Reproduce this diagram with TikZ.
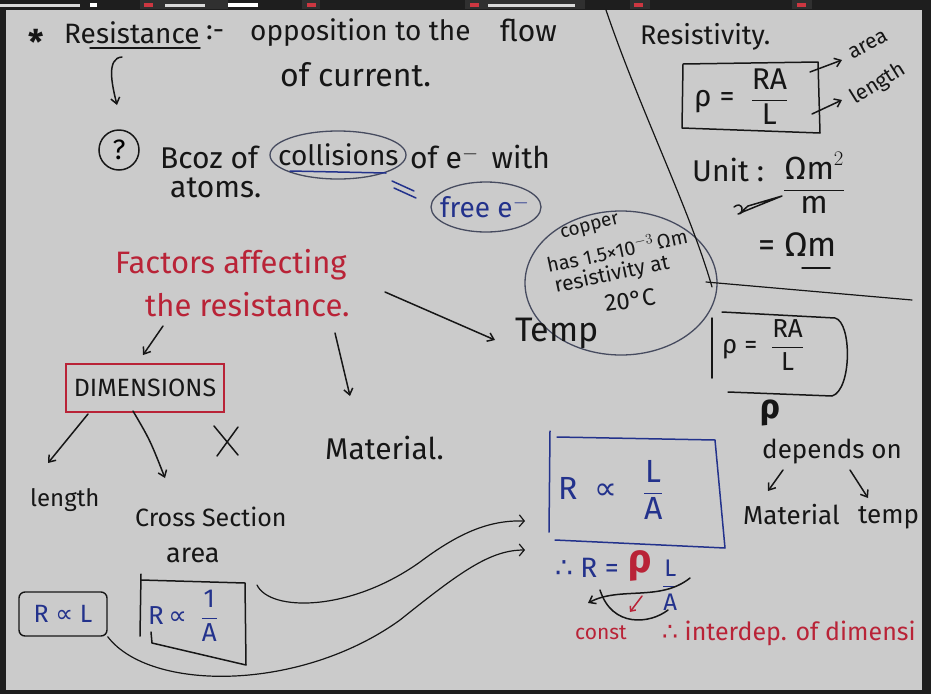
\documentclass[tikz,border=0pt]{standalone}
\usepackage{amsmath}
\usepackage{fontspec}
\setmainfont{Fira Sans}
\newfontfamily\symfont{DejaVu Sans}
\usetikzlibrary{positioning,arrows.meta}
\definecolor{board}{RGB}{203,203,203}
\definecolor{frame}{RGB}{30,30,30}
\definecolor{tabgrey}{RGB}{48,48,48}
\definecolor{tabred}{RGB}{205,55,65}
\definecolor{inkblack}{RGB}{22,22,22}
\definecolor{inkred}{RGB}{185,35,55}
\definecolor{inkblue}{RGB}{35,50,140}
\definecolor{inkgrey}{RGB}{70,75,95}
\newcommand{\hw}[1]{\fontsize{#1}{#1}\selectfont}
\begin{document}
\begin{tikzpicture}[x=1pt,y=-1pt,
  txt/.style={inner sep=0pt, anchor=west, text=inkblack, font=\hw{28}},
  redtxt/.style={txt, text=inkred},
  bluetxt/.style={txt, text=inkblue},
  pen/.style={draw=inkblack, line width=1.5pt, line cap=round, line join=round},
  redpen/.style={pen, draw=inkred},
  bluepen/.style={pen, draw=inkblue},
  loop/.style={draw=inkgrey, line width=1.3pt},
  barb/.style={pen, -{Straight Barb[length=6pt,width=9pt]}},
  ]
  % Screen frame and board
  \fill[frame] (0,0) rectangle (931,694);
  \fill[board] (6,10) rectangle (922,690);
  % Tab strip
  \fill[tabgrey] (140,0) rectangle (228,9);
  \fill[tabgrey] (302,0) rectangle (320,9);
  \fill[tabgrey] (465,0) rectangle (585,9);
  \fill[tabgrey] (630,0) rectangle (650,9);
  \fill[tabgrey] (792,0) rectangle (812,9);
  \fill[white!85!black] (0,4) rectangle (80,7);
  \fill[white] (90,3) rectangle (97,7);
  \fill[white!85!black] (165,4) rectangle (205,7);
  \fill[white] (228,3) rectangle (258,7);
  \fill[white!85!black] (488,4) rectangle (575,7);
  \foreach \tx in {144,307,470,634,797}
    \fill[tabred] (\tx,3) rectangle ++(9,4);

  % Definition
  \node[txt, font=\bfseries\hw{34}] (star) at (28,42) {*};
  \node[txt] (resist) at (64,33) {Resistance};
  \draw[pen] (90,48) -- (200,48);
  \node[txt] (colon) at (206,33) {:-};
  \node[txt] (oppos) at (250,33) {opposition to the};
  \node[txt, font=\hw{30}] (flow) at (500,30) {flow};
  \node[txt, font=\hw{32}] (curr) at (280,75) {of current.};

  % Why
  \coordinate (hook) at (122,57);
  \coordinate (hookend) at (117,105);
  \draw[barb] (hook) .. controls (106,58) and (112,85) .. (hookend);
  \node[circle, draw=inkblack, line width=1.5pt, minimum size=40pt, inner sep=0pt, font=\hw{28}] (why) at (119,150) {?};
  \node[txt, font=\hw{30}] (bcoz) at (160,157) {Bcoz of};
  \node[txt] (coll) at (278,155) {collisions};
  \draw[loop] (338,155) ellipse [x radius=68, y radius=24];
  \draw[bluepen] (290,171) -- (386,173);
  \node[txt, font=\hw{30}] (ofe) at (410,157) {of e$^-$ \,with};
  \node[txt, font=\hw{30}] (atoms) at (170,188) {atoms.};
  \draw[bluepen] (392,181) -- (414,191) (394,188) -- (416,198);
  \node[bluetxt] (free) at (440,207) {free e$^-$};
  \draw[loop] (486,207) ellipse [x radius=55, y radius=25];

  % Copper note
  \draw[loop] (621,283) ellipse [x radius=96, y radius=72];
  \node[txt, anchor=center, rotate=15, font=\hw{19}] (copper) at (590,228) {copper};
  \node[txt, anchor=center, rotate=12, font=\hw{20}] (has) at (617,250) {has 1.5×10$^{-3}$\,Ωm};
  \node[txt, anchor=center, rotate=12, font=\hw{21}] (resat) at (612,275) {resistivity at};
  \node[txt, anchor=center, rotate=8, font=\hw{24}] (deg) at (630,300) {20°C};

  % Factors
  \node[redtxt, font=\hw{31}] (fact) at (115,265) {Factors affecting};
  \node[redtxt, font=\hw{31}] (theres) at (145,305) {the resistance.};
  \node[txt, font=\hw{34}] (temp) at (515,333) {Temp};
  \coordinate (tempin) at (495,340);
  \draw[barb] (385,292) -- (tempin);
  \node[txt, anchor=center, font=\hw{25}, draw=inkred, line width=1.2pt, inner sep=0pt, minimum width=158pt, minimum height=48pt] (dims) at (145,388) {DIMENSIONS};
  \coordinate (dimsin) at (143,355);
  \draw[barb] (163,326) -- (dimsin);
  \node[txt, font=\hw{30}] (mat) at (325,448) {Material.};
  \coordinate (matin) at (350,396);
  \draw[barb] (335,333) -- (matin);

  % Dimensions
  \node[txt, font=\hw{24}] (len) at (30,500) {length};
  \node[txt, font=\hw{25}] (cross) at (135,517) {Cross Section};
  \node[txt, font=\hw{27}] (area) at (166,555) {area};
  \draw[barb] (88,414) -- (48,463);
  \draw[barb] (133,411) .. controls (150,440) .. (165,478);
  \draw[pen] (214,426) -- (238,455) (238,427) -- (217,456);

  % Proportionalities
  \node[bluetxt, anchor=center, font=\hw{25}, draw=inkblack, line width=1.4pt, rounded corners=6pt, minimum width=88pt, minimum height=44pt] (rl) at (63,614) {R {\symfont ∝} L};
  \node[bluetxt, font=\hw{26}] (ra) at (148,616) {R\,{\symfont ∝} \ $\dfrac{\text{1}}{\text{A}}$};
  \draw[pen] (141,574) -- (140,636);
  \draw[pen] (141,580) -- (245,583) -- (246,665) -- (152,643) -- (151,632);
  \node[bluetxt, font=\hw{32}] (rla) at (558,490) {R \ {\symfont ∝} \ \ $\dfrac{\text{L}}{\text{A}}$};
  \draw[bluepen] (550,431) -- (549,532);
  \draw[bluepen] (557,437) -- (715,440) -- (725,548) -- (555,540);
  \coordinate (rlaup) at (525,521);
  \coordinate (rladown) at (525,550);
  \draw[pen, line width=1.2pt, -{Straight Barb[length=5pt,width=12pt]}] (257,585) .. controls (270,612) and (350,612) .. (420,562) .. controls (460,532) and (490,520) .. (rlaup);
  \draw[pen, line width=1.2pt, -{Straight Barb[length=5pt,width=12pt]}] (rl.south east) .. controls (150,692) and (300,692) .. (400,620) .. controls (460,572) and (490,550) .. (rladown);

  % Result
  \node[bluetxt] (hence) at (555,568) {{\symfont ∴} R =};
  \node[txt, text=inkred, font=\bfseries\hw{40}] (rho) at (628,566) {ρ};
  \node[bluetxt, font=\hw{24}] (la) at (662,585) {$\dfrac{\text{L}}{\text{A}}$};
  \coordinate (toconst) at (588,603);
  \draw[barb] (690,578) .. controls (660,602) and (620,586) .. (toconst);
  \draw[pen] (600,590) .. controls (612,628) and (650,624) .. (668,610);
  \draw[redpen, -{Straight Barb[length=4pt,width=7pt]}] (642,596) -- (630,612);
  \node[redtxt, font=\hw{21}] (const) at (575,633) {const};
  \node[redtxt, font=\hw{25}] (interdep) at (662,633) {{\symfont ∴} interdep. of dimensi};

  % Resistivity
  \draw[pen, line width=1.2pt] (606,10) .. controls (640,110) and (690,210) .. (712,287);
  \draw[pen, line width=1.2pt] (706,282) -- (912,300);
  \node[txt, font=\hw{27}] (rvty) at (640,37) {Resistivity.};
  \node[txt, font=\hw{30}] (formula) at (694,97) {ρ = \ $\dfrac{\text{RA}}{\text{L}}$};
  \draw[pen] (683,64) -- (682,128) -- (820,133) -- (818,62) -- cycle;
  \node[txt, anchor=center, rotate=28, font=\hw{21}] (areaw) at (868,45) {area};
  \node[txt, anchor=center, rotate=32, font=\hw{21}] (lenw) at (878,84) {length};
  \draw[barb] (810,72) -- (842,60);
  \draw[barb] (812,114) -- (842,100);
  \node[txt, font=\hw{30}] (unit) at (692,170) {Unit :};
  \node[txt, font=\hw{32}] (unitfr) at (783,183) {$\dfrac{\text{Ωm}^{2}}{\text{m}}$};
  \draw[pen] (740,213) -- (782,196) -- (748,206) -- cycle;
  \draw[pen] (734,207) .. controls (742,200) and (746,214) .. (738,214);
  \node[txt, font=\hw{34}] (ohm) at (758,245) {= Ωm};
  \draw[pen] (802,268) -- (830,268);
  \node[txt, font=\hw{26}] (formula2) at (722,345) {ρ = \ $\dfrac{\text{RA}}{\text{L}}$};
  \draw[pen] (712,318) -- (712,378);
  \draw[pen] (722,312) -- (835,318) .. controls (852,322) and (852,390) .. (832,396) -- (728,392);

  % Dependence
  \node[txt, font=\bfseries\hw{34}] (rho2) at (760,413) {ρ};
  \node[txt, font=\hw{26}] (dep) at (762,452) {depends on};
  \node[txt, font=\hw{26}] (mat2) at (743,515) {Material};
  \node[txt, font=\hw{26}] (temp2) at (858,518) {temp};
  \draw[barb] (783,470) -- (768,491);
  \draw[barb] (850,470) -- (868,498);
\end{tikzpicture}
\end{document}
